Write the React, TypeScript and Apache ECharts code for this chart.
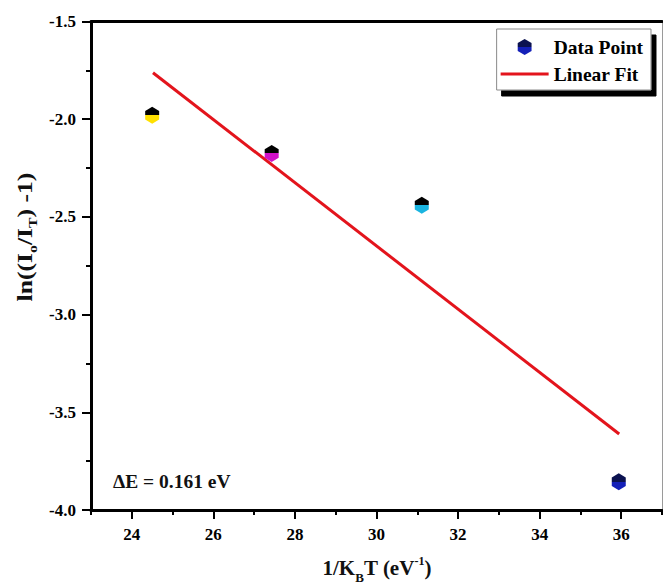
import React, { useEffect, useRef } from "react";
import * as echarts from "echarts";

const xMajorTicks = [24, 26, 28, 30, 32, 34, 36];
const xMinorTicks = [23, 25, 27, 29, 31, 33, 35, 37];
const pointX = [24.5, 27.43, 31.11, 35.94];
const pointY = [-1.98, -2.175, -2.44, -3.855];
const topColors = ["#000000", "#000000", "#000000", "#0b1250"];
const bottomColors = ["#ffe000", "#d010c8", "#1ab4e0", "#1420b8"];
const fitX = [24.52, 35.95];
const fitY = [-1.762, -3.611];
const annotation = "ΔE = 0.161 eV";

const FONT = "'Liberation Serif', 'Times New Roman', serif";
const HEX = "path://M50,0 L93.3,25 L93.3,75 L50,100 L6.7,75 L6.7,25 Z";
const LINE_ICON = "path://M0,0 L100,0 L100,6 L0,6 Z";

function twoTone(top: string, bottom: string) {
  return {
    type: "linear",
    x: 0,
    y: 0,
    x2: 0,
    y2: 1,
    colorStops: [
      { offset: 0, color: top },
      { offset: 0.5, color: top },
      { offset: 0.5, color: bottom },
      { offset: 1, color: bottom },
    ],
  };
}

export default function App() {
  const ref = useRef<HTMLDivElement>(null);
  useEffect(() => {
    if (!ref.current) return;
    const chart = echarts.init(ref.current, null, { renderer: "svg" });
    const tickLabel = {
      fontFamily: FONT,
      fontWeight: 700,
      fontSize: 17,
      color: "#000000",
    };
    const option: any = {
      animation: false,
      backgroundColor: "#ffffff",
      textStyle: { fontFamily: FONT, fontWeight: 700, color: "#000" },
      grid: { left: 91, right: 1, top: 21.5, bottom: 74, containLabel: false },
      xAxis: [
        {
          type: "value",
          position: "bottom",
          min: 23,
          max: 37,
          axisLine: { show: true, lineStyle: { color: "#000", width: 3 } },
          axisTick: {
            show: true,
            customValues: xMajorTicks,
            length: 9,
            lineStyle: { color: "#000", width: 2 },
          },
          axisLabel: { ...tickLabel, customValues: xMajorTicks, margin: 16 },
          splitLine: { show: false },
        },
        {
          type: "value",
          position: "bottom",
          min: 23,
          max: 37,
          axisLine: { show: false },
          axisTick: {
            show: true,
            customValues: xMinorTicks,
            length: 5,
            lineStyle: { color: "#000", width: 2 },
          },
          axisLabel: { show: false },
          splitLine: { show: false },
        },
        {
          type: "value",
          position: "top",
          min: 23,
          max: 37,
          axisLine: { show: true, lineStyle: { color: "#000", width: 3 } },
          axisTick: { show: false },
          axisLabel: { show: false },
          splitLine: { show: false },
        },
      ],
      yAxis: [
        {
          type: "value",
          position: "left",
          min: -4,
          max: -1.5,
          interval: 0.5,
          axisLine: { show: true, lineStyle: { color: "#000", width: 3 } },
          axisTick: { show: true, length: 9, lineStyle: { color: "#000", width: 2 } },
          minorTick: { show: true, splitNumber: 2, length: 5, lineStyle: { color: "#000", width: 2 } },
          axisLabel: { ...tickLabel, margin: 15, formatter: (v: number) => v.toFixed(1) },
          splitLine: { show: false },
        },
        {
          type: "value",
          position: "right",
          min: -4,
          max: -1.5,
          axisLine: { show: true, lineStyle: { color: "#9a9a9a", width: 1 } },
          axisTick: { show: false },
          axisLabel: { show: false },
          splitLine: { show: false },
        },
      ],
      legend: {
        orient: "vertical",
        right: 12,
        top: 29,
        padding: [8, 8, 6, 4],
        itemGap: 7,
        itemWidth: 48,
        itemHeight: 16,
        backgroundColor: "#ffffff",
        borderColor: "#8a8a8a",
        borderWidth: 1,
        shadowColor: "#000000",
        shadowBlur: 0,
        shadowOffsetX: 5,
        shadowOffsetY: 6,
        textStyle: { fontFamily: FONT, fontWeight: 700, fontSize: 19.5, color: "#000" },
        data: [
          {
            name: "Data Point",
            icon: HEX,
            itemStyle: { color: twoTone(topColors[3], bottomColors[3]), opacity: 1 },
          },
          {
            name: "Linear Fit",
            icon: LINE_ICON,
            itemStyle: { color: "#e3141c", opacity: 1 },
          },
        ],
      },
      series: [
        {
          name: "Linear Fit",
          type: "line",
          xAxisIndex: 0,
          yAxisIndex: 0,
          symbol: "none",
          data: fitX.map((x, i) => [x, fitY[i]]),
          lineStyle: { color: "#e3141c", width: 3 },
          itemStyle: { color: "#e3141c" },
          z: 2,
        },
        {
          name: "Data Point",
          type: "scatter",
          xAxisIndex: 0,
          yAxisIndex: 0,
          symbol: HEX,
          symbolSize: [14, 17],
          symbolKeepAspect: false,
          itemStyle: { opacity: 1 },
          data: pointX.map((x, i) => ({
            value: [x, pointY[i]],
            itemStyle: { color: twoTone(topColors[i], bottomColors[i]), opacity: 1 },
          })),
          z: 3,
        },
      ],
      graphic: [
        {
          type: "text",
          x: 377,
          y: 568,
          style: {
            text: "{a|1/K}{s|B}{a|T (eV}{p|-1}{a|)}",
            align: "center",
            verticalAlign: "middle",
            fill: "#111",
            rich: {
              a: { fontFamily: FONT, fontWeight: 700, fontSize: 21, fill: "#111", verticalAlign: "middle" },
              s: { fontFamily: FONT, fontWeight: 700, fontSize: 13, fill: "#111", padding: [18, 0, 0, 0], verticalAlign: "middle" },
              p: { fontFamily: FONT, fontWeight: 700, fontSize: 12, fill: "#111", padding: [0, 0, 14, 0], verticalAlign: "middle" },
            },
          },
        },
        {
          type: "text",
          x: 25,
          y: 237,
          rotation: Math.PI / 2,
          scaleX: 1.22,
          scaleY: 1,
          style: {
            text: "{a|ln((I}{s|o}{a|/I}{s|T}{a|) -1)}",
            align: "center",
            verticalAlign: "middle",
            fill: "#111",
            rich: {
              a: { fontFamily: FONT, fontWeight: 700, fontSize: 21, fill: "#111", verticalAlign: "middle" },
              s: { fontFamily: FONT, fontWeight: 700, fontSize: 13, fill: "#111", padding: [16, 0, 0, 0], verticalAlign: "middle" },
            },
          },
        },
        {
          type: "text",
          x: 113,
          y: 481,
          style: {
            text: annotation,
            fontFamily: FONT,
            fontWeight: 700,
            fontSize: 19.5,
            fill: "#111",
            align: "left",
            verticalAlign: "middle",
          },
        },
      ],
    };
    chart.setOption(option);
    return () => chart.dispose();
  }, []);
  return (
    <div
      ref={ref}
      style={{ position: "absolute", left: 0, top: 0, width: 663, height: 584 }}
    />
  );
}
